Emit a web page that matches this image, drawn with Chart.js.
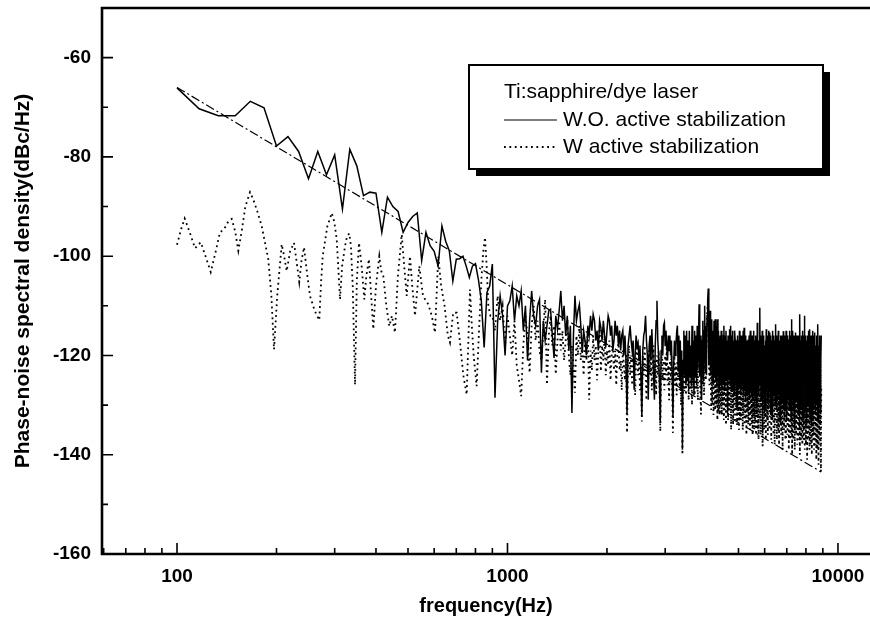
<!DOCTYPE html>
<html lang="en">
<head>
<meta charset="UTF-8">
<title>Phase-noise spectral density</title>
<script src="https://cdn.jsdelivr.net/npm/chart.js"></script>
<style>
  body { margin: 0; background: #fff; }
  #wrap { width: 870px; height: 627px; }
</style>
</head>
<body>
<div id="wrap"><canvas id="noiseChart" width="870" height="627"></canvas></div>
<script>
// measured spectra are sampled from 100 Hz, one point every 50/3 Hz
const gridStartHz = 100;
const gridStepHz = 50 / 3;

// W.O. active stabilization (dBc/Hz), one value per grid point (100 ... 8900 Hz)
const woStabDb = [
  -66.1, -70.3, -71.7, -71.7, -68.8, -70.1, -77.8, -75.9, -78.9, -84.4,
  -78.9, -83.6, -79.6, -90.5, -78.5, -81.8, -87.8, -87.1, -87.3, -95.2,
  -88.1, -90, -91, -95.2, -93.2, -92, -91.3, -100.9, -95.2, -97.9,
  -99, -102, -93.9, -97, -98.9, -105, -100.6, -100.5, -100, -102,
  -104.3, -102, -101.5, -104.7, -109, -118.4, -107.3, -106, -101.6, -128.5,
  -113.4, -108, -112, -120, -110, -109, -106, -113, -108, -110,
  -107, -115, -110, -121, -113, -107, -112, -114, -110, -108.7,
  -123.5, -113, -117, -114, -111, -110.7, -116, -120.5, -112, -114.7,
  -111, -107, -113, -110, -116, -112, -119, -114, -131.6, -116,
  -108, -113, -111, -109.7, -114, -119.5, -115, -117, -120, -114,
  -116, -112, -115, -111.7, -113, -117, -115, -119, -113, -114.4,
  -117, -113, -116, -118.4, -115, -112, -113, -116, -114, -119,
  -117, -113, -116, -114, -118, -115, -119, -116, -115, -120,
  -116, -121, -131.6, -118, -116, -114, -117, -119, -117, -126.9,
  -120, -116, -118, -117.4, -121, -118, -124, -132.3, -119, -116,
  -115, -112, -117, -120, -128.9, -118, -116, -121, -114.7, -119,
  -124, -128.9, -118, -113, -109, -117, -120, -126, -133.6, -119,
  -116, -120, -114, -113.4, -118, -115, -118, -121, -116, -119,
  -116, -120, -117, -124, -132.3, -122, -117, -120, -118, -115.4,
  -114, -123, -116, -125, -117, -127, -119, -139, -121, -115,
  -124, -116, -126, -115, -125, -117, -127, -115, -124, -118,
  -126, -114, -125, -117, -128, -115, -124, -116, -126, -114,
  -123, -117, -109.7, -124, -116, -125, -128.9, -117, -113, -125,
  -115, -110, -123, -114, -124, -112, -109, -106.5, -122, -115,
  -111, -124, -114, -112.7, -125, -115, -126, -113, -124, -112.7,
  -125, -114, -126, -112.7, -124, -115, -127, -124.8, -116, -126,
  -115, -127, -117, -126, -116, -114, -127, -116, -125, -115,
  -124, -117, -131.9, -116, -125, -117, -114.7, -126, -114, -127,
  -116, -126, -115, -127, -117, -128, -115, -116.8, -126, -117,
  -127, -130.9, -116, -125, -117, -127, -115, -126, -117, -128,
  -116, -127, -117, -126, -115, -128, -114.4, -127, -118, -129,
  -116, -127, -117, -128, -118, -116.8, -127, -116, -129, -117,
  -115, -127, -117, -128, -116, -129, -118, -126, -115, -128,
  -117, -129, -116, -127, -118, -130, -113.4, -127, -117, -128,
  -117, -126, -110.4, -124, -116, -129, -118, -127, -115, -135.6,
  -119, -128, -116, -126, -118, -131, -117, -125, -114.7, -127,
  -116, -129, -118, -126, -115, -130, -115.4, -127, -119, -132,
  -116, -125, -117, -129, -115, -133, -118, -126, -116, -128,
  -117, -130, -118, -113.7, -126, -131, -116, -127, -118, -129,
  -115, -128, -117, -126, -118.8, -132, -116, -134, -119, -127,
  -116, -129, -117, -125, -115.1, -130, -118, -128, -116, -131,
  -117, -127, -115, -133, -118, -126, -116, -129, -116.8, -128,
  -117, -131, -115, -127, -118, -130, -116, -133, -112.7, -126,
  -118, -129, -115, -127, -117, -131, -116, -128, -135, -119,
  -127, -115.4, -129, -117, -126, -116, -130, -118, -128, -132,
  -116, -127, -118, -129, -111.7, -126, -117, -131, -119, -128,
  -116, -130, -117, -127, -115, -132, -118, -128, -116, -112,
  -126, -117, -129, -116, -131, -118, -127, -134, -117, -128,
  -116, -130, -118, -127, -115, -131, -119, -114.7, -128, -133,
  -117, -127, -116, -134, -118, -129, -115, -130, -117, -128,
  -116, -131, -118, -127, -117, -115.4, -129, -132, -118, -127,
  -116, -130, -117, -128, -119, -126, -113.7, -129, -133, -118,
  -128, -116, -130, -118, -127, -117, -131.6, -122, -116
];

// W active stabilization: below 900 Hz read vertex by vertex
const wLowHz = [
  100, 103, 105.5, 109, 113.4, 118, 122, 126.5, 131, 134.9,
  139, 143, 146.4, 150, 153.3, 156.9, 161, 166.3, 170, 175,
  180.4, 188.9, 193, 196.6, 201, 207.4, 211, 214.7, 220, 225.9,
  230, 234.4, 238, 242.3, 247, 252.6, 261, 269.5, 273, 276,
  285, 293.9, 299, 304.3, 308, 311.4, 316, 322.4, 327, 332.2,
  336, 340.2, 345.7, 350, 355.4, 362, 368.8, 374, 380.9, 386,
  392.6, 400, 409.4, 415, 421, 430, 438.9, 447, 456.6, 466,
  478.5, 487, 495.5, 507, 515, 525, 541, 555, 576, 590,
  603.4, 617.4, 630, 645, 660, 669.9, 685, 702, 720, 735,
  752.5, 770, 780, 790, 806.7, 820, 835, 845, 855, 865,
  875, 888
];
const wLowDb = [
  -97.7, -94.5, -92.4, -95, -98.4, -97.2, -100, -103.2, -99, -95.2,
  -94.5, -93, -92.5, -95, -98.9, -95, -90, -87.1, -88.5, -91,
  -93.9, -100.6, -108, -118.8, -108, -97.6, -100, -103, -99, -97.3,
  -101, -105.2, -101, -98.2, -103, -108, -111, -112.9, -105, -100,
  -94, -91.3, -93, -96.6, -103, -108.7, -102, -98, -96, -95.4,
  -98, -106, -125.9, -105, -97.3, -102, -108.7, -104, -100.6, -107,
  -114.7, -106, -100, -103, -104, -110, -114.1, -112, -115.4, -104,
  -95.6, -102, -108, -100, -106, -112, -102, -108, -109.7, -112,
  -115.4, -100, -106, -110, -116, -117.4, -111.4, -111.4, -118, -124,
  -127.9, -106.7, -114, -120, -126.2, -115, -104, -99, -96.2, -102,
  -110, -112
];
// ... and from 900 Hz (grid index 48) on the same grid as above
const wGridFirstIndex = 48;
const wGridDb = [
  -112, -115, -108, -113, -110, -118, -112, -116, -120, -113, -122, -125, -128.2,
  -118, -112, -116, -123.5, -114, -110, -117, -113, -119, -121,
  -115, -108.7, -125.9, -116, -112, -118, -114, -123.8, -117, -113,
  -119, -115, -121, -117, -113, -120, -124, -118, -122, -127.5,
  -116, -120, -114, -121, -118, -124, -117, -121, -115, -128.9,
  -119, -123, -116, -121, -118, -125, -119, -114, -123.2, -118,
  -121, -116, -124, -119, -122, -117, -125, -120, -118, -123,
  -119, -126, -120, -117, -123, -121, -127, -119, -122, -125,
  -120, -135.6, -121, -118, -124, -120, -126, -119, -123, -128,
  -121, -118, -124, -120, -127, -122, -133.3, -120, -124, -118,
  -123, -129, -121, -125, -119, -124, -120, -127, -122, -118,
  -125, -121, -128, -120, -124, -119, -126, -135.3, -122, -119,
  -125, -121, -127, -120, -124, -118, -126, -122, -129, -121,
  -125, -120, -127, -135.6, -123, -120, -126, -122, -128, -121,
  -125, -119, -127, -123, -130, -124, -140, -125, -121, -127,
  -122, -128, -123, -126, -120, -129, -124, -121, -127, -123,
  -130, -122, -126, -120, -128, -124, -121, -127, -123, -129,
  -118, -115, -124, -127, -131.9, -125, -120, -126, -122, -128,
  -123, -119, -125, -116, -112, -110, -114, -120, -126, -122,
  -121, -131, -123, -130, -120, -132, -129.6, -122, -131, -124,
  -130, -121, -133, -123, -131, -120, -132, -124, -130, -122,
  -132, -121, -130, -124, -133, -120, -131, -123, -134, -122,
  -130, -121, -133, -124, -131, -120, -132, -123, -135, -122,
  -131, -121, -134, -123, -132, -120, -133, -124, -131, -121,
  -134, -122, -132, -121, -135, -123, -132.9, -121, -133, -124,
  -131, -120, -135, -122, -132, -124, -134, -121, -133, -123,
  -136, -122, -131, -120, -134, -123, -133, -121, -135, -124,
  -132, -120, -134, -123, -136, -121, -132, -124, -135, -122,
  -133, -120, -136, -123, -132, -121, -135, -124, -137, -122,
  -121, -133, -124, -136, -122, -131, -120, -134, -138.3, -123,
  -131, -121, -135, -124, -132, -120, -137, -125, -122, -133,
  -121, -136, -124, -131, -120, -135, -134.3, -122, -132, -125,
  -137, -121, -133, -124, -130, -120, -136, -123, -131, -138,
  -122, -134, -125, -131, -121, -137, -124, -132, -120, -135,
  -123, -138, -121, -133, -125, -130, -120, -136, -124, -132,
  -121, -139, -123, -131, -120, -135, -125, -133, -122, -137,
  -124, -137, -121, -132, -120, -136, -123, -134, -121, -139,
  -124, -131, -120, -137, -125, -133, -121, -136, -123, -140,
  -122, -132, -119, -137, -124, -134, -121, -139, -125, -131,
  -120, -136, -123, -134, -121, -138, -124, -132, -120, -137,
  -123, -135, -121, -140, -125, -132, -119, -137, -124, -134,
  -121, -138, -123, -133, -120, -137, -125, -135, -122, -139,
  -124, -132, -120, -138, -123, -134, -121, -141, -125, -133,
  -120, -137, -124, -135, -122, -139, -123, -132, -120, -138,
  -125, -134, -121, -140, -124, -133, -120, -137, -123, -136,
  -121, -139, -125, -132, -120, -138, -124, -135, -122, -141,
  -123, -134, -120, -139, -125, -133, -121, -142, -124, -136,
  -122, -138, -125, -134, -121, -140, -143.4, -126
];

// straight-line fit (dash-dot)
const fitHz = [100, 8900];
const fitDb = [-66, -143.5];

const xLabelTicks = [100, 1000, 10000];
const yLabelStep = 20;
const yMinorStep = 10;

const legendTitle = 'Ti:sapphire/dye laser';

const FONT = "'Liberation Sans', Arial, Helvetica, sans-serif";

const gridHz = i => gridStartHz + i * gridStepHz;
const woPoints = woStabDb.map((v, i) => ({ x: gridHz(i), y: v }));
const wPoints = wLowHz.map((f, i) => ({ x: f, y: wLowDb[i] }))
  .concat(wGridDb.map((v, i) => ({ x: gridHz(wGridFirstIndex + i), y: v })));
const fitPoints = fitHz.map((f, i) => ({ x: f, y: fitDb[i] }));

// axis box with inward ticks (major long, minor short)
const frame = {
  id: 'frame',
  afterDatasetsDraw(chart) {
    const { ctx, chartArea: a, scales: { x, y } } = chart;
    ctx.save();
    ctx.strokeStyle = '#000';
    ctx.lineWidth = 1.6;
    ctx.beginPath();
    for (let e = 1; e <= 4; e++) {
      for (let m = 1; m < 10; m++) {
        const v = m * Math.pow(10, e);
        if (v < x.min || v > x.max) continue;
        const px = x.getPixelForValue(v);
        const len = m === 1 ? 11 : 6;
        ctx.moveTo(px, a.bottom);
        ctx.lineTo(px, a.bottom - len);
      }
    }
    for (let v = y.min + yMinorStep; v < y.max + 0.01; v += yMinorStep) {
      const py = y.getPixelForValue(v);
      const len = v % yLabelStep === 0 ? 11 : 6;
      ctx.moveTo(a.left, py);
      ctx.lineTo(a.left + len, py);
    }
    ctx.stroke();

    ctx.lineWidth = 2.6;
    ctx.beginPath();
    ctx.moveTo(a.right, a.top);
    ctx.lineTo(a.left, a.top);
    ctx.lineTo(a.left, a.bottom);
    ctx.lineTo(a.right, a.bottom);
    ctx.stroke();
    ctx.restore();
  }
};

// boxed legend with a drop shadow
const boxLegend = {
  id: 'boxLegend',
  afterDraw(chart) {
    const ctx = chart.ctx;
    const box = { left: 469, top: 65, width: 354, height: 104 };
    ctx.save();
    ctx.fillStyle = '#000';
    ctx.fillRect(box.left + 7, box.top + 7, box.width, box.height);
    ctx.fillStyle = '#fff';
    ctx.fillRect(box.left, box.top, box.width, box.height);
    ctx.strokeStyle = '#000';
    ctx.lineWidth = 2;
    ctx.strokeRect(box.left, box.top, box.width, box.height);

    ctx.font = '21px ' + FONT;
    ctx.fillStyle = '#000';
    ctx.textBaseline = 'middle';
    ctx.fillText(legendTitle, 504, 92);

    const rows = [chart.data.datasets[1], chart.data.datasets[2]];
    rows.forEach((ds, k) => {
      const yy = 120 + k * 27;
      ctx.save();
      ctx.strokeStyle = ds.borderColor;
      ctx.lineWidth = k === 0 ? 1.2 : ds.borderWidth;
      ctx.setLineDash(ds.borderDash || []);
      ctx.beginPath();
      ctx.moveTo(504, yy);
      ctx.lineTo(557, yy);
      ctx.stroke();
      ctx.restore();
      ctx.fillText(ds.label, 563, yy);
    });
    ctx.restore();
  }
};

new Chart(document.getElementById('noiseChart'), {
  type: 'line',
  data: {
    datasets: [
      {
        label: 'fit',
        data: fitPoints,
        borderColor: '#000',
        borderWidth: 1.2,
        borderDash: [9, 3, 2, 3]
      },
      {
        label: 'W.O. active stabilization',
        data: woPoints,
        borderColor: '#000',
        borderWidth: 1.5
      },
      {
        label: 'W active stabilization',
        data: wPoints,
        borderColor: '#000',
        borderWidth: 1.8,
        borderDash: [1.8, 3.6]
      }
    ]
  },
  options: {
    responsive: false,
    animation: false,
    devicePixelRatio: 1,
    layout: { padding: { top: 8, right: 0, bottom: 0, left: 0 } },
    elements: { point: { radius: 0 }, line: { tension: 0 } },
    plugins: { legend: { display: false }, tooltip: { enabled: false } },
    scales: {
      x: {
        type: 'logarithmic',
        min: 59.3,
        max: 12500,
        grid: { display: false, drawTicks: false },
        border: { display: false },
        ticks: {
          autoSkip: false,
          maxRotation: 0,
          color: '#000',
          padding: 11,
          font: { family: FONT, size: 19, weight: 'bold' },
          callback: v => xLabelTicks.some(t => Math.abs(v - t) < 1e-6) ? String(v) : ''
        },
        title: {
          display: true,
          text: 'frequency(Hz)',
          color: '#000',
          font: { family: FONT, size: 20, weight: 'bold' },
          padding: { top: 0, bottom: 9 }
        },
        afterFit: s => {
          s.height = 73;
          s.paddingLeft = 0;
          s.paddingRight = 0;
        }
      },
      y: {
        min: -160,
        max: -50,
        grid: { display: false, drawTicks: false },
        border: { display: false },
        ticks: {
          stepSize: yMinorStep,
          color: '#000',
          padding: 11,
          font: { family: FONT, size: 19, weight: 'bold' },
          callback: v => v % yLabelStep === 0 ? String(v) : ''
        },
        title: {
          display: true,
          text: 'Phase-noise spectral density(dBc/Hz)',
          color: '#000',
          font: { family: FONT, size: 21, weight: 'bold' },
          padding: { top: 11, bottom: 0 }
        },
        afterFit: s => {
          s.width = 102;
          s.paddingTop = 0;
          s.paddingBottom = 0;
        }
      }
    }
  },
  plugins: [frame, boxLegend]
});
</script>
</body>
</html>
